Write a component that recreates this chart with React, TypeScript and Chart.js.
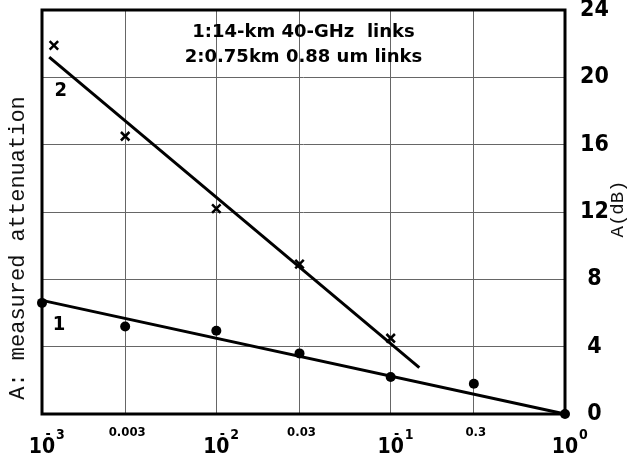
import React, { useEffect, useRef } from 'react';
import { Chart, registerables } from 'chart.js';

Chart.register(...registerables);

// Spatial-frequency-like x axis (log) and attenuation values (dB)
const xGridValues = [0.001, 0.003, 0.01, 0.03, 0.1, 0.3, 1];
const majorTickValues = [0.001, 0.01, 0.1, 1];
const majorTickBase = ['10', '10', '10', '10'];
const majorTickExponents = ['3', '2', '1', '0'];
const majorTickNegative = [true, true, true, false];
const minorTickValues = [0.003, 0.03, 0.3];
const minorTickLabels = ['0.003', '0.03', '0.3'];
const yTickValues = [0, 4, 8, 12, 16, 20, 24];

// Series 1: 14-km 40-GHz links (dots)
const link1X = [0.001, 0.003, 0.01, 0.03, 0.1, 0.3, 1];
const link1A = [6.6, 5.2, 4.95, 3.6, 2.2, 1.8, 0];
// Series 2: 0.75 km 0.88 um links (crosses)
const link2X = [0.00117, 0.003, 0.01, 0.03, 0.1];
const link2A = [21.9, 16.5, 12.2, 8.9, 4.5];

// Fitted straight lines
const fit1X = [0.001, 1];
const fit1A = [6.75, 0];
const fit2X = [0.0011, 0.146];
const fit2A = [21.2, 2.75];

// Curve labels
const curveLabelText = ['1', '2'];
const curveLabelX = [0.00125, 0.00128];
const curveLabelA = [5.3, 19.2];

const legendLines = ['1:14-km 40-GHz  links', '2:0.75km 0.88 um links'];
const leftTitle = 'A: measured attenuation';
const rightTitle = 'A(dB)';

const toPoints = (xs: number[], ys: number[]) => xs.map((x, i) => ({ x, y: ys[i] }));

const decorPlugin = {
  id: 'decor',
  beforeDatasetsDraw(chart: any) {
    const { ctx, chartArea } = chart;
    const { left, right, top, bottom } = chartArea;
    ctx.save();
    ctx.strokeStyle = '#000';
    ctx.lineWidth = 3;
    ctx.strokeRect(left, top, right - left, bottom - top);
    ctx.restore();
  },
  afterDatasetsDraw(chart: any) {
    const { ctx, chartArea } = chart;
    const xs = chart.scales.x;
    const ys = chart.scales.y;
    const { left, right, top, bottom } = chartArea;
    ctx.save();
    ctx.fillStyle = '#000';

    // x-axis major labels 10^n
    ctx.textBaseline = 'middle';
    majorTickValues.forEach((v, i) => {
      const px = xs.getPixelForValue(v);
      ctx.font = 'bold 21px "DejaVu Sans Condensed"';
      ctx.textAlign = 'center';
      ctx.fillText(majorTickBase[i], px, bottom + 34);
      ctx.font = 'bold 14px "DejaVu Sans Condensed"';
      if (majorTickNegative[i]) {
        ctx.fillText('-', px + 6, bottom + 20);
      }
      ctx.textAlign = 'left';
      ctx.fillText(majorTickExponents[i], px + 14, bottom + 21);
    });

    // x-axis minor labels
    ctx.font = 'bold 13px "DejaVu Sans Condensed"';
    ctx.textAlign = 'center';
    minorTickValues.forEach((v, i) => {
      const px = xs.getPixelForValue(v);
      ctx.fillText(minorTickLabels[i], px + 2, bottom + 19);
    });

    // curve labels
    ctx.font = 'bold 20px "DejaVu Sans Condensed"';
    curveLabelText.forEach((t, i) => {
      ctx.fillText(t, xs.getPixelForValue(curveLabelX[i]), ys.getPixelForValue(curveLabelA[i]));
    });

    // legend text box
    ctx.font = 'bold 18px "DejaVu Sans"';
    ctx.textAlign = 'center';
    const cx = (left + right) / 2;
    ctx.fillText(legendLines[0], cx, top + 22);
    ctx.fillText(legendLines[1], cx, top + 47);

    // left title
    ctx.font = '22px "Liberation Mono"';
    ctx.fillStyle = '#111';
    ctx.save();
    ctx.translate(18, 248);
    ctx.rotate(-Math.PI / 2);
    ctx.textAlign = 'center';
    ctx.fillText(leftTitle, 0, 0);
    ctx.restore();

    // right title
    ctx.font = '19px "Liberation Mono"';
    ctx.save();
    ctx.translate(618, 209);
    ctx.rotate(-Math.PI / 2);
    ctx.textAlign = 'center';
    ctx.fillText(rightTitle, 0, 0);
    ctx.restore();

    ctx.restore();
  },
};

export default function App() {
  const canvasRef = useRef<HTMLCanvasElement | null>(null);

  useEffect(() => {
    document.body.style.margin = '0';
    const canvas = canvasRef.current;
    if (!canvas) return;
    const chart = new Chart(canvas, {
      type: 'scatter',
      data: {
        datasets: [
          {
            label: 'fit 2',
            data: toPoints(fit2X, fit2A),
            showLine: true,
            borderColor: '#000',
            borderWidth: 3,
            pointRadius: 0,
            clip: false as any,
          },
          {
            label: 'fit 1',
            data: toPoints(fit1X, fit1A),
            showLine: true,
            borderColor: '#000',
            borderWidth: 3,
            pointRadius: 0,
            clip: false as any,
          },
          {
            label: '0.75 km 0.88 um links',
            data: toPoints(link2X, link2A),
            pointStyle: 'crossRot',
            pointRadius: 6,
            borderColor: '#000',
            borderWidth: 2.5,
            backgroundColor: '#000',
            clip: false as any,
          },
          {
            label: '14-km 40-GHz links',
            data: toPoints(link1X, link1A),
            pointStyle: 'circle',
            pointRadius: 5,
            borderColor: '#000',
            backgroundColor: '#000',
            borderWidth: 0,
            clip: false as any,
          },
        ],
      },
      options: {
        animation: false,
        responsive: false,
        maintainAspectRatio: false,
        layout: { padding: { left: 42, top: 10, right: 0, bottom: 0 } },
        plugins: { legend: { display: false }, tooltip: { enabled: false } },
        scales: {
          x: {
            type: 'logarithmic',
            min: 0.001,
            max: 1,
            afterBuildTicks: (scale: any) => {
              scale.ticks = xGridValues.map((v) => ({ value: v }));
            },
            afterFit: (scale: any) => {
              scale.height = 53;
              scale.paddingLeft = 0;
              scale.paddingRight = 0;
            },
            ticks: { display: false },
            grid: { color: '#666', lineWidth: 1, drawTicks: false },
            border: { display: false },
          },
          y: {
            type: 'linear',
            position: 'right',
            min: 0,
            max: 24,
            afterBuildTicks: (scale: any) => {
              scale.ticks = yTickValues.map((v) => ({ value: v }));
            },
            afterFit: (scale: any) => {
              scale.width = 65;
              scale.paddingTop = 0;
              scale.paddingBottom = 0;
            },
            ticks: {
              color: '#000',
              padding: 15,
              crossAlign: 'center',
              font: { family: '"DejaVu Sans Condensed"', size: 23, weight: 'bold' },
            },
            grid: { color: '#666', lineWidth: 1, drawTicks: false },
            border: { display: false },
          },
        },
      },
      plugins: [decorPlugin],
    });
    return () => chart.destroy();
  }, []);

  return (
    <div style={{ width: 630, height: 467, background: '#fff' }}>
      <canvas ref={canvasRef} width={630} height={467} style={{ display: 'block' }} />
    </div>
  );
}
